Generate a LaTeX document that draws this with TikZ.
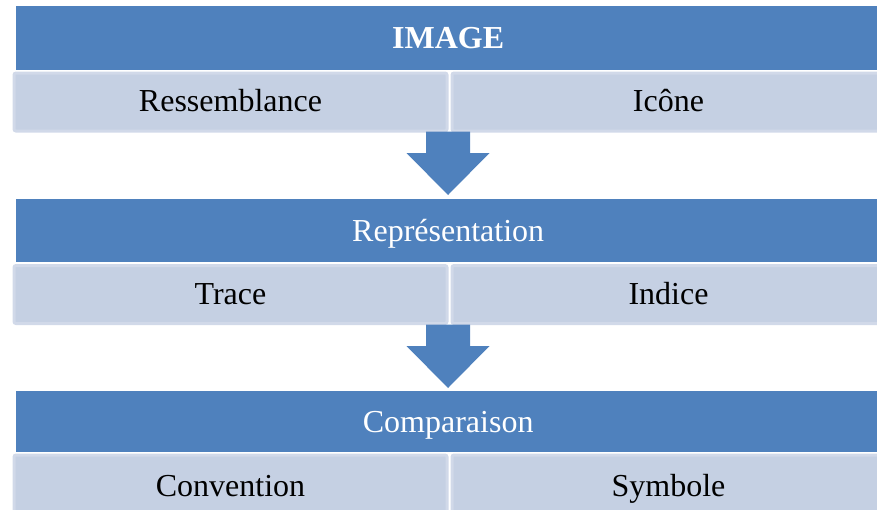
\documentclass[tikz,border=0pt]{standalone}
\usepackage{fontspec}
\setmainfont{Liberation Serif}
\usetikzlibrary{calc}
\definecolor{hdrblue}{HTML}{4F81BD}
\definecolor{rowfill}{HTML}{C5D0E3}
\definecolor{rowedge}{HTML}{D1D9E9}
\tikzset{
  hdr/.style={fill=hdrblue, draw=none, inner sep=0pt, text=white,
    font=\fontsize{32}{38}\selectfont, text height=22pt, text depth=1pt},
  cellbox/.style={fill=rowfill, draw=rowedge, line width=3pt, rounded corners=2pt,
    inner sep=0pt, text=black, font=\fontsize{32}{38}\selectfont,
    text height=22pt, text depth=3pt},
  blockarrow/.style={fill=hdrblue, draw=none}
}
\begin{document}
\begin{tikzpicture}[x=1pt,y=1pt]
\useasboundingbox (0,0) rectangle (877,-509);
\clip (0,0) rectangle (877,-509);
% headers
\node[hdr, minimum width=864pt, minimum height=64pt, anchor=north west] (h1) at (16,-6) {\textbf{IMAGE}};
\node[hdr, minimum width=864pt, minimum height=63pt, anchor=north west] (h2) at (16,-199) {Représentation};
\node[hdr, minimum width=864pt, minimum height=61pt, anchor=north west] (h3) at (16,-391) {Comparaison};
% rows
\node[cellbox, minimum width=433pt, minimum height=58pt, anchor=north west] (r1l) at (12.5,-71.5) {Ressemblance};
\node[cellbox, minimum width=433pt, minimum height=58pt, anchor=north west] (r1r) at (450.5,-71.5) {Icône};
\node[cellbox, minimum width=433pt, minimum height=58pt, anchor=north west] (r2l) at (12.5,-264) {Trace};
\node[cellbox, minimum width=433pt, minimum height=58pt, anchor=north west] (r2r) at (450.5,-264) {Indice};
\node[cellbox, minimum width=433pt, minimum height=64pt, anchor=north west] (r3l) at (12.5,-453.5) {Convention};
\node[cellbox, minimum width=433pt, minimum height=64pt, anchor=north west] (r3r) at (450.5,-453.5) {Symbole};
% arrows
\coordinate (a1top) at (448,-131.5);
\coordinate (a1tip) at (448,-195);
\coordinate (a2top) at (448,-324.5);
\coordinate (a2tip) at (448,-388);
\foreach \t/\p in {a1top/a1tip, a2top/a2tip}{
  \fill[blockarrow] ($(\t)+(-22,0)$) -- ($(\t)+(22,0)$) -- ($(\t)+(22,-21.5)$)
    -- ($(\t)+(41.5,-21.5)$) -- (\p) -- ($(\t)+(-41.5,-21.5)$) -- ($(\t)+(-22,-21.5)$) -- cycle;
}
\end{tikzpicture}
\end{document}
